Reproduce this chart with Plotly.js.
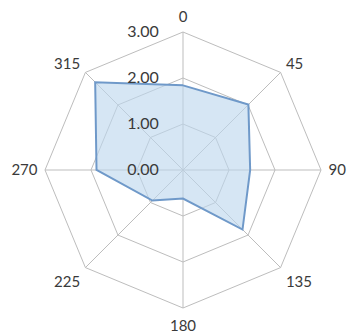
<!DOCTYPE html>
<html>
<head>
<meta charset="utf-8">
<script src="https://cdn.plot.ly/plotly-3.0.1.min.js"></script>
<style>
  html, body { margin: 0; padding: 0; background: #fff; }
  #chart { width: 348px; height: 334px; }
</style>
</head>
<body>
<div id="chart"></div>
<script>
// Direction categories (degrees) and the measured value at each
const directions = ['0', '45', '90', '135', '180', '225', '270', '315'];
const values = [1.84, 2.01, 1.46, 1.83, 0.62, 0.94, 1.88, 2.70];
const radialTicks = [0, 1, 2, 3];
const radialTickText = ['0.00', '1.00', '2.00', '3.00'];

// close the polygon back to the first direction
const theta = directions.concat([directions[0]]);
const r = values.concat([values[0]]);

const gridColor = '#bdbdbd';
const fontFamily = 'Lato, "Open Sans", sans-serif';
const textColor = '#3a3a3a';

Plotly.newPlot('chart', [{
  type: 'scatterpolar',
  theta: theta,
  r: r,
  mode: 'lines',
  fill: 'toself',
  fillcolor: 'rgba(189,215,238,0.62)',
  line: { color: '#6f99c9', width: 2 },
  hoverinfo: 'skip'
}], {
  width: 348,
  height: 334,
  margin: { l: 45, r: 27, t: 32, b: 26 },
  paper_bgcolor: '#ffffff',
  showlegend: false,
  font: { family: fontFamily, size: 15, color: textColor },
  polar: {
    domain: { x: [0, 1], y: [0, 1] },
    bgcolor: '#ffffff',
    gridshape: 'linear',
    angularaxis: {
      type: 'category',
      categoryarray: directions,
      rotation: 90,
      direction: 'clockwise',
      showline: true,
      linecolor: gridColor,
      linewidth: 1,
      gridcolor: gridColor,
      gridwidth: 1,
      ticks: 'outside',
      ticklen: 4,
      tickcolor: 'rgba(0,0,0,0)',
      tickfont: { family: fontFamily, size: 15, color: textColor }
    },
    radialaxis: {
      range: [0, 3],
      angle: 90,
      side: 'counterclockwise',
      tickangle: 90,
      tickvals: radialTicks,
      ticktext: radialTickText,
      showline: false,
      gridcolor: gridColor,
      gridwidth: 1,
      ticks: 'outside',
      ticklen: 18,
      tickcolor: 'rgba(0,0,0,0)',
      tickfont: { family: fontFamily, size: 16, color: textColor },
      layer: 'above traces'
    }
  }
}, { displayModeBar: false, staticPlot: true });
</script>
</body>
</html>
